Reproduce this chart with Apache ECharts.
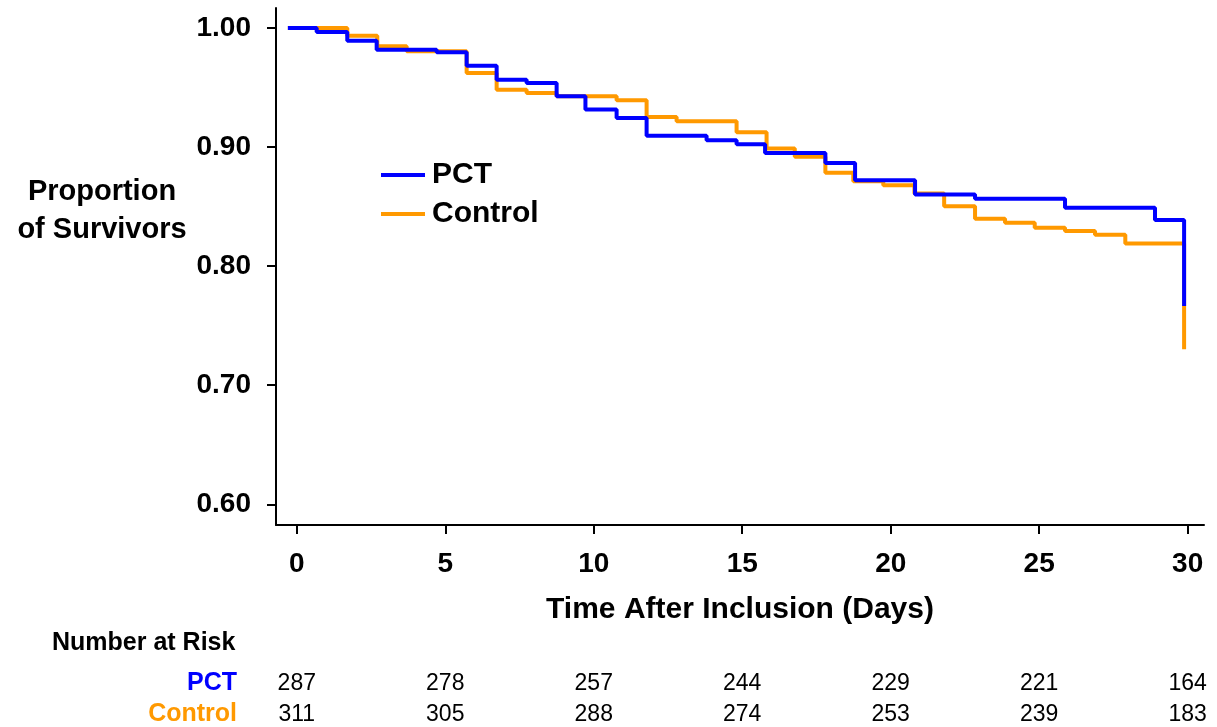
<!DOCTYPE html>
<html>
<head>
<meta charset="utf-8">
<script src="https://cdn.jsdelivr.net/npm/echarts@6/dist/echarts.min.js"></script>
<style>
  html, body { margin: 0; padding: 0; background: #fff; }
  #chart { width: 1217px; height: 727px; }
</style>
</head>
<body>
<div id="chart"></div>
<script>
// Kaplan-Meier steps (time in days, survival proportion)
var pctTimes = [-0.3, 0.67, 1.7, 2.69, 4.71, 5.72, 6.73, 7.74, 8.75, 9.72, 10.77, 11.78, 13.8, 14.81, 15.77, 17.8, 18.8, 20.82, 22.84, 25.87, 28.9, 29.88];
var pctSurv = [1.000, 0.9966, 0.9893, 0.9818, 0.9796, 0.9684, 0.9566, 0.9539, 0.9427, 0.9315, 0.9245, 0.9096, 0.9058, 0.9024, 0.8951, 0.8867, 0.8721, 0.8602, 0.8565, 0.8490, 0.8387, 0.7665];

var ctrlTimes = [-0.3, 1.7, 2.71, 3.7, 5.72, 6.73, 7.74, 8.75, 10.77, 11.78, 12.79, 14.81, 15.82, 16.77, 17.8, 18.74, 19.75, 20.8, 21.8, 22.84, 23.85, 24.85, 25.87, 26.88, 27.9, 29.88];
var ctrlSurv = [1.000, 0.9935, 0.9846, 0.9805, 0.9622, 0.9482, 0.9455, 0.9427, 0.9393, 0.9253, 0.9217, 0.9125, 0.8987, 0.8918, 0.8784, 0.8714, 0.8680, 0.8610, 0.8504, 0.8398, 0.8364, 0.8322, 0.8295, 0.8263, 0.8190, 0.7301];

// axis ticks
var dayTicks = [0, 5, 10, 15, 20, 25, 30];
var survTicks = [0.6, 0.7, 0.8, 0.9, 1.0];

// number at risk at each day tick
var pctRisk = [287, 278, 257, 244, 229, 221, 164];
var ctrlRisk = [311, 305, 288, 274, 253, 239, 183];

var BLUE = '#0000FF';
var ORANGE = '#FF9900';
var FONT = '"Liberation Sans", Arial, sans-serif';

function pairs(xs, ys) {
    var out = [];
    for (var i = 0; i < xs.length; i++) {
        out.push([xs[i], ys[i]]);
    }
    return out;
}

// extra x axis that only carries the risk numbers under each day tick
function riskAxis(offset, values) {
    return {
        type: 'value',
        position: 'bottom',
        offset: offset,
        min: -0.7,
        max: 30.55,
        axisLine: { show: false },
        axisTick: { show: false },
        splitLine: { show: false },
        axisLabel: {
            customValues: dayTicks,
            margin: 0,
            verticalAlign: 'middle',
            color: '#000',
            fontFamily: FONT,
            fontSize: 23,
            formatter: function (v) {
                return String(values[dayTicks.indexOf(Math.round(v))]);
            }
        }
    };
}

var chart = echarts.init(document.getElementById('chart'));

chart.setOption({
    animation: false,
    grid: { left: 276, right: 13, top: 8, bottom: 202 },
    legend: {
        data: ['PCT', 'Control'],
        orient: 'vertical',
        left: 376,
        top: 155,
        icon: 'rect',
        itemWidth: 44,
        itemHeight: 4,
        itemGap: 9,
        textStyle: { color: '#000', fontFamily: FONT, fontSize: 30, fontWeight: 'bold', padding: [0, 0, 0, 2] }
    },
    xAxis: [{
        type: 'value',
        min: -0.7,
        max: 30.55,
        name: 'Time After Inclusion (Days)',
        nameLocation: 'middle',
        nameGap: 85,
        nameTextStyle: { color: '#000', fontFamily: FONT, fontSize: 30, fontWeight: 'bold', verticalAlign: 'middle' },
        axisLine: { onZero: false, lineStyle: { color: '#000', width: 2 } },
        axisTick: { customValues: dayTicks, length: 9, lineStyle: { color: '#000', width: 2 } },
        splitLine: { show: false },
        axisLabel: {
            customValues: dayTicks,
            margin: 39,
            verticalAlign: 'middle',
            color: '#000',
            fontFamily: FONT,
            fontSize: 28,
            fontWeight: 'bold'
        }
    },
    riskAxis(159, pctRisk),
    riskAxis(190, ctrlRisk)],
    yAxis: {
        type: 'value',
        min: 0.5826,
        max: 1.0168,
        axisLine: { show: true, onZero: false, lineStyle: { color: '#000', width: 2 } },
        axisTick: { show: true, customValues: survTicks, length: 9, lineStyle: { color: '#000', width: 2 } },
        splitLine: { show: false },
        axisLabel: {
            customValues: survTicks,
            margin: 25,
            color: '#000',
            fontFamily: FONT,
            fontSize: 28,
            fontWeight: 'bold',
            formatter: function (v) { return v.toFixed(2); }
        }
    },
    graphic: [{
        type: 'text',
        style: {
            x: 102, y: 211,
            text: 'Proportion\nof Survivors',
            align: 'center',
            verticalAlign: 'middle',
            lineHeight: 38,
            fill: '#000',
            font: 'bold 29px ' + FONT
        }
    }, {
        type: 'text',
        style: {
            x: 52, y: 643,
            text: 'Number at Risk',
            verticalAlign: 'middle',
            fill: '#000',
            font: 'bold 25px ' + FONT
        }
    }, {
        type: 'text',
        style: {
            x: 237, y: 683,
            text: 'PCT',
            align: 'right',
            verticalAlign: 'middle',
            fill: BLUE,
            font: 'bold 25px ' + FONT
        }
    }, {
        type: 'text',
        style: {
            x: 237, y: 714,
            text: 'Control',
            align: 'right',
            verticalAlign: 'middle',
            fill: ORANGE,
            font: 'bold 25px ' + FONT
        }
    }],
    series: [{
        name: 'Control',
        type: 'line',
        step: 'end',
        showSymbol: false,
        color: ORANGE,
        lineStyle: { color: ORANGE, width: 4 },
        data: pairs(ctrlTimes, ctrlSurv)
    }, {
        name: 'PCT',
        type: 'line',
        step: 'end',
        showSymbol: false,
        color: BLUE,
        lineStyle: { color: BLUE, width: 4 },
        data: pairs(pctTimes, pctSurv)
    }]
});
</script>
</body>
</html>
